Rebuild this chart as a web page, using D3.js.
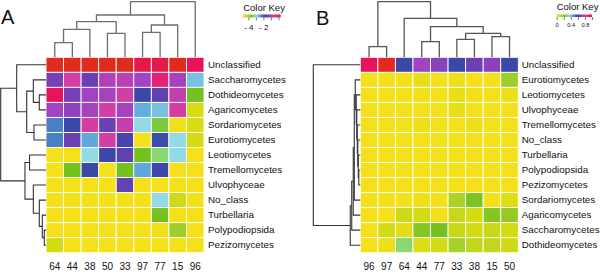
<!DOCTYPE html>
<html><head><meta charset="utf-8">
<script src="https://cdn.jsdelivr.net/npm/d3@7"></script>
<style>
body{margin:0;background:#fff}
svg{display:block}
text{font-family:"Liberation Sans",Arial,Helvetica,sans-serif;fill:#111}
</style>
</head><body>
<svg id="chart" width="600" height="273"></svg>
<script>
// ---------------- DATA ----------------
const colsA = ["64","44","38","50","33","97","77","15","96"];
const rowsA = ["Unclassified","Saccharomycetes","Dothideomycetes","Agaricomycetes","Sordariomycetes","Eurotiomycetes","Leotiomycetes","Tremellomycetes","Ulvophyceae","No_class","Turbellaria","Polypodiopsida","Pezizomycetes"];
const valuesA = [
  [ 0.30, 0.30, 0.30, 0.30, 0.30, 0.05, 0.05, 0.30,-0.05],
  [-1.32,-0.46,-1.42,-0.81,-0.71,-0.96,-0.20,-0.91,-2.73],
  [-0.05,-1.32,-0.96,-0.91,-0.51,-1.87,-1.52,-0.66,-3.64],
  [-0.96,-1.11,-0.91,-0.51,-0.91,-2.58,-2.73,-0.46,-4.40],
  [-2.23,-1.87,-0.46,-1.42,-0.66,-2.93,-3.49,-4.70,-4.40],
  [-2.23,-1.42,-2.53,-0.51,-1.72,-4.75,-1.92,-2.93,-4.35],
  [-4.75,-4.75,-2.93,-1.87,-1.52,-3.64,-3.24,-2.93,-4.75],
  [-4.75,-3.64,-1.87,-4.75,-3.64,-2.53,-1.87,-4.75,-4.75],
  [-4.75,-4.75,-4.75,-4.75,-1.47,-4.75,-4.75,-4.75,-4.75],
  [-4.75,-4.75,-4.75,-4.75,-4.75,-4.75,-2.93,-4.30,-4.75],
  [-4.75,-4.75,-4.75,-4.75,-4.75,-4.75,-3.64,-4.75,-4.75],
  [-4.75,-4.75,-4.75,-4.75,-4.75,-4.75,-4.70,-3.90,-4.75],
  [-4.35,-4.75,-4.75,-4.75,-4.75,-4.75,-4.75,-4.75,-4.75]
];
const colsB = ["96","97","64","44","77","33","38","15","50"];
const rowsB = ["Unclassified","Eurotiomycetes","Leotiomycetes","Ulvophyceae","Tremellomycetes","No_class","Turbellaria","Polypodiopsida","Pezizomycetes","Sordariomycetes","Agaricomycetes","Saccharomycetes","Dothideomycetes"];
const valuesB = [
  [0.93,1.00,0.57,0.75,0.71,0.57,0.66,0.71,0.57],
  [0.00,0.00,0.00,0.03,0.00,0.02,0.00,0.00,0.17],
  [0.00,0.00,0.00,0.01,0.00,0.03,0.01,0.00,0.02],
  [0.00,0.00,0.00,0.00,0.00,0.03,0.00,0.00,0.00],
  [0.00,0.00,0.00,0.02,0.00,0.00,0.02,0.00,0.00],
  [0.00,0.00,0.00,0.00,0.00,0.00,0.00,0.00,0.00],
  [0.00,0.00,0.00,0.00,0.00,0.00,0.00,0.00,0.00],
  [0.00,0.00,0.00,0.00,0.00,0.00,0.00,0.00,0.00],
  [0.00,0.00,0.00,0.00,0.00,0.00,0.00,0.00,0.00],
  [0.00,0.00,0.00,0.02,0.00,0.15,0.21,0.00,0.05],
  [0.00,0.00,0.09,0.08,0.01,0.10,0.08,0.20,0.18],
  [0.00,0.08,0.04,0.20,0.22,0.10,0.08,0.10,0.08],
  [0.00,0.02,0.30,0.06,0.08,0.16,0.11,0.11,0.09]
];
// dendrograms: [left, right, height]  (height 0..1 relative)
const rowTreeA = [["Unclassified",[["Saccharomycetes",["Dothideomycetes","Agaricomycetes",0.148],0.28],["Sordariomycetes","Eurotiomycetes",0.265],0.426],0.647],
  [["Leotiomycetes","Tremellomycetes",0.364],["Ulvophyceae",["No_class",["Turbellaria",["Polypodiopsida","Pezizomycetes",0.038],0.082],0.148],0.28],0.464],1.0];
const colTreeA = [[[[["64","44",0.263],"38",0.504],["50","33",0.432],0.640],[["97","77",0.450],"15",0.581],0.761],"96",1.0];
const rowTreeB = ["Unclassified",[[[[["Eurotiomycetes",["Leotiomycetes",["Ulvophyceae",["Tremellomycetes",["No_class",["Turbellaria",["Polypodiopsida","Pezizomycetes",0.032],0.043],0.054],0.064],0.075],0.086],0.107],"Sordariomycetes",0.128],"Agaricomycetes",0.150],"Saccharomycetes",0.182],"Dothideomycetes",0.214],1.0];
const colTreeB = [["96","97",0.191],["64",[["44","77",0.281],[["33","38",0.324],["15","50",0.371],0.432],0.55],0.701],1.0];
// colour keys
const keyDomainA = [-4.75, 0.3];
const keyTicksA = [-4,-3,-2,-1,0];
const keyLabelsA = [-4,-2];
const keyDomainB = [0, 1];
const keyTicksB = [0,0.2,0.4,0.6,0.8,1.0];
const keyLabelsB = [0,0.4,0.8];
const paletteStops  = [0, 0.08, 0.16, 0.22, 0.30, 0.36, 0.43, 0.50, 0.57, 0.66, 0.75, 0.85, 0.93, 1.0];
const paletteColors = ["#F5E11A","#D3DB12","#A6D02A","#74C21E","#8AD872","#92DAE6","#64AEDF","#4A7EC6","#3B48A8","#6A40B2","#A243C2","#D63DA2","#E8135C","#E02B1E"];

// ---------------- DRAW ----------------
const svg = d3.select("#chart");
const defs = svg.append("defs");

function panel(cfg){
  const g = svg.append("g");
  const x = d3.scaleBand().domain(cfg.cols).range([cfg.left, cfg.left+cfg.width]);
  const y = d3.scaleBand().domain(cfg.rows).range([cfg.top, cfg.top+cfg.height]);
  const [d0,d1] = cfg.domain;
  const color = d3.scaleLinear().domain(paletteStops.map(t=>d0+t*(d1-d0))).range(paletteColors).interpolate(d3.interpolateRgb).clamp(true);

  // cells
  cfg.rows.forEach((r,i)=>{
    g.selectAll(null).data(cfg.values[i]).enter().append("rect")
      .attr("x",(d,j)=>x(cfg.cols[j])).attr("y",y(r))
      .attr("width",x.bandwidth()).attr("height",y.bandwidth())
      .attr("fill",d=>color(d)).attr("stroke","#fff").attr("stroke-width",0.9);
  });

  // row labels
  const ra = d3.axisRight(y).tickSize(0).tickPadding(0);
  g.append("g").attr("transform",`translate(${cfg.rowLabelX},0)`).call(ra)
    .call(s=>s.select(".domain").remove())
    .selectAll("text").attr("font-size","9.8px").attr("fill","#111")
    .style("font-family",'"Liberation Sans",Arial,sans-serif');
  // column labels
  const ca = d3.axisBottom(x).tickSize(0).tickPadding(0);
  g.append("g").attr("transform",`translate(0,${cfg.colLabelY})`).call(ca)
    .call(s=>s.select(".domain").remove())
    .selectAll("text").attr("font-size","10px").attr("fill","#111").attr("dy","0.35em").attr("y",0)
    .style("font-family",'"Liberation Sans",Arial,sans-serif');

  // row dendrogram
  const hx = d3.scaleLinear().domain([0,1]).range([cfg.left, cfg.rowDendroLeft]);
  function rowLay(n){
    if(typeof n==="string") return {p:y(n)+y.bandwidth()/2,h:0};
    const a=rowLay(n[0]), b=rowLay(n[1]), h=n[2];
    g.append("path").attr("d",`M${hx(a.h)},${a.p}H${hx(h)}V${b.p}H${hx(b.h)}`)
      .attr("fill","none").attr("stroke",cfg.rowStroke).attr("stroke-width",1.1);
    return {p:(a.p+b.p)/2,h};
  }
  const rr = rowLay(cfg.rowTree);
  // column dendrogram
  const hy = d3.scaleLinear().domain([0,1]).range([cfg.top, cfg.colDendroTop]);
  function colLay(n){
    if(typeof n==="string") return {p:x(n)+x.bandwidth()/2,h:0};
    const a=colLay(n[0]), b=colLay(n[1]), h=n[2];
    g.append("path").attr("d",`M${a.p},${hy(a.h)}V${hy(h)}H${b.p}V${hy(b.h)}`)
      .attr("fill","none").attr("stroke",cfg.colStroke).attr("stroke-width",1.3);
    return {p:(a.p+b.p)/2,h};
  }
  colLay(cfg.colTree);

  // panel letter
  g.append("text").attr("x",cfg.letterX).attr("y",cfg.letterY).attr("font-size","20px").text(cfg.letter);

  // colour key
  const gid = "grad"+cfg.letter;
  const grad = defs.append("linearGradient").attr("id",gid).attr("x1","0%").attr("x2","100%");
  paletteStops.forEach((t,i)=>grad.append("stop").attr("offset",(t*100)+"%").attr("stop-color",paletteColors[i]));
  const k = cfg.key;
  const kx = d3.scaleLinear().domain(cfg.domain).range([k.x0,k.x1]);
  g.append("text").attr("x",k.x0+k.titleDx).attr("y",k.titleY).attr("font-size",k.titleSize).text("Color Key");
  g.append("rect").attr("x",k.x0).attr("y",k.barY).attr("width",k.x1-k.x0).attr("height",k.barH).attr("fill",`url(#${gid})`);
  const ka = d3.axisBottom(kx).tickValues(cfg.keyTicks).tickSize(3).tickSizeOuter(0)
    .tickFormat(d=>cfg.keyLabels.some(v=>Math.abs(v-d)<1e-9)? (d<0? "- "+Math.abs(d): String(d)) : "");
  g.append("g").attr("transform",`translate(0,${k.barY+k.barH})`).call(ka)
    .call(s=>s.select(".domain").remove())
    .call(s=>s.selectAll("line").attr("stroke","#444").attr("stroke-width",0.7))
    .selectAll("text").attr("font-size",k.labelSize).attr("fill","#111").attr("y",k.labelDy)
    .style("font-family",'"Liberation Sans",Arial,sans-serif');
}

panel({letter:"A", letterX:1, letterY:24, cols:colsA, rows:rowsA, values:valuesA, domain:keyDomainA,
  keyTicks:keyTicksA, keyLabels:keyLabelsA,
  left:46, top:57.3, width:158, height:195.4, rowLabelX:208, colLabelY:266,
  rowTree:rowTreeA, colTree:colTreeA, rowDendroLeft:0.7, colDendroTop:1.7,
  rowStroke:"#333", colStroke:"#6e6e6e",
  key:{x0:242.7,x1:280.7,titleDx:0.5,titleY:10.5,titleSize:"9.5px",barY:14.5,barH:3,labelSize:"8px",labelDy:7}});

panel({letter:"B", letterX:316, letterY:25, cols:colsB, rows:rowsB, values:valuesB, domain:keyDomainB,
  keyTicks:keyTicksB, keyLabels:keyLabelsB,
  left:360.3, top:57.3, width:158, height:195.4, rowLabelX:521.7, colLabelY:266,
  rowTree:rowTreeB, colTree:colTreeB, rowDendroLeft:313.3, colDendroTop:1.7,
  rowStroke:"#333", colStroke:"#555",
  key:{x0:556.7,x1:592,titleDx:0,titleY:10,titleSize:"9.5px",barY:14.5,barH:2.5,labelSize:"5.8px",labelDy:6}});
</script>
</body></html>
